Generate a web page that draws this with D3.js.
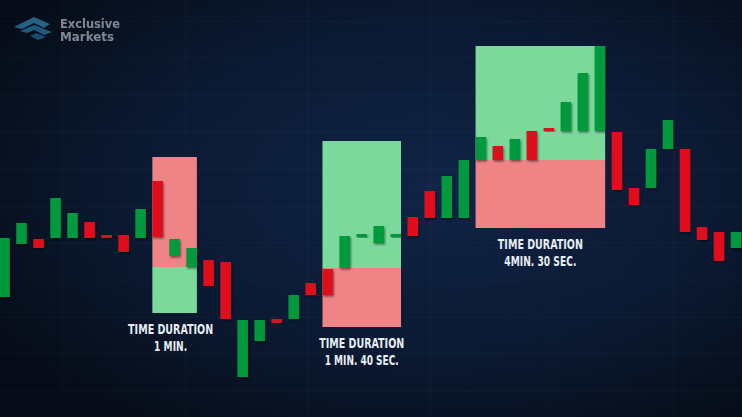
<!DOCTYPE html>
<html>
<head>
<meta charset="utf-8">
<script src="https://cdn.jsdelivr.net/npm/d3@7"></script>
<style>
  html, body { margin: 0; padding: 0; background: #070d18; overflow: hidden; }
  svg { display: block; }
</style>
</head>
<body>
<div id="chart"></div>
<script>
  // candle data, price levels
  var candleOpen  = [120, 173, 178, 179, 179, 195, 182, 182, 179, 236, 161, 150, 157, 155, 40, 76, 98, 98, 134, 148, 149, 180, 174, 180, 200, 226, 199, 199, 257, 271, 257, 286, 289, 286, 286, 286, 285, 229, 229, 268, 268, 190, 185, 169];
  var candleClose = [179, 194, 169, 219, 204, 179, 179, 165, 208, 180, 178, 169, 131, 98, 97, 97, 94, 122, 122, 122, 181, 183, 191, 183, 181, 199, 241, 257, 280, 257, 278, 257, 286, 315, 344, 371, 227, 212, 268, 297, 185, 177, 156, 185];

  // duration boxes: first/last candle, top/split/bottom levels
  var boxFrom   = [9, 19, 28];
  var boxTo     = [11, 23, 35];
  var boxTop    = [260, 276, 371];
  var boxSplit  = [150, 149, 257];
  var boxBottom = [104, 90, 189];
  var boxUpper  = ["red", "green", "green"];
  var boxLine1  = ["TIME DURATION", "TIME DURATION", "TIME DURATION"];
  var boxLine2  = ["1 MIN.", "1 MIN. 40 SEC.", "4MIN. 30 SEC."];

  var svgWidth = 742;
  var svgHeight = 417;

  var svg = d3.select("#chart")
    .append("svg")
    .attr("width", svgWidth)
    .attr("height", svgHeight);

  var defs = svg.append("defs");
  var bg = defs.append("radialGradient")
    .attr("id", "bg")
    .attr("cx", "58%").attr("cy", "45%").attr("r", "70%");
  bg.append("stop").attr("offset", "0%").attr("stop-color", "#102446");
  bg.append("stop").attr("offset", "55%").attr("stop-color", "#0b1a33");
  bg.append("stop").attr("offset", "100%").attr("stop-color", "#060c17");

  var shadow = defs.append("filter").attr("id", "shadow")
    .attr("x", "-50%").attr("y", "-20%").attr("width", "200%").attr("height", "140%");
  shadow.append("feDropShadow")
    .attr("dx", 1).attr("dy", 1.5).attr("stdDeviation", 1.2)
    .attr("flood-color", "#000").attr("flood-opacity", 0.5);

  svg.append("rect")
    .attr("width", svgWidth).attr("height", svgHeight)
    .attr("fill", "url(#bg)");

  // faint grid
  var gridX = d3.range(64, svgWidth, 122);
  var gridY = d3.range(21, svgHeight, 37);
  svg.append("g").selectAll("line").data(gridX).enter().append("line")
    .attr("x1", d => d).attr("x2", d => d).attr("y1", 0).attr("y2", svgHeight)
    .attr("stroke", "#ffffff").attr("stroke-opacity", 0.03);
  svg.append("g").selectAll("line").data(gridY).enter().append("line")
    .attr("y1", d => d).attr("y2", d => d).attr("x1", 0).attr("x2", svgWidth)
    .attr("stroke", "#ffffff").attr("stroke-opacity", 0.03);

  // scales
  var x = d3.scaleLinear().domain([0, 43]).range([4.5, 736]);
  var y = d3.scaleLinear().domain([0, 417]).range([417, 0]);
  var bw = 10.5;

  var candles = candleOpen.map(function(o, i) {
    return { i: i, open: o, close: candleClose[i] };
  });
  var boxes = boxFrom.map(function(f, i) {
    return {
      from: f, to: boxTo[i], top: boxTop[i], split: boxSplit[i], bottom: boxBottom[i],
      upper: boxUpper[i], l1: boxLine1[i], l2: boxLine2[i]
    };
  });

  var green = "#05993c", red = "#e2101b";
  var boxGreen = "#7bd99c", boxRed = "#ef8487";

  // boxes
  var boxG = svg.append("g").selectAll("g").data(boxes).enter().append("g");
  boxG.append("rect")
    .attr("x", d => x(d.from) - bw / 2)
    .attr("width", d => x(d.to) - x(d.from) + bw)
    .attr("y", d => y(d.top))
    .attr("height", d => y(d.split) - y(d.top))
    .attr("fill", d => d.upper == "red" ? boxRed : boxGreen);
  boxG.append("rect")
    .attr("x", d => x(d.from) - bw / 2)
    .attr("width", d => x(d.to) - x(d.from) + bw)
    .attr("y", d => y(d.split))
    .attr("height", d => y(d.bottom) - y(d.split))
    .attr("fill", d => d.upper == "red" ? boxGreen : boxRed);

  // candles
  svg.append("g").selectAll("rect").data(candles).enter().append("rect")
    .attr("x", d => x(d.i) - bw / 2)
    .attr("width", bw)
    .attr("y", d => y(Math.max(d.open, d.close)))
    .attr("height", d => Math.max(3, Math.abs(y(d.open) - y(d.close))))
    .attr("fill", d => d.close >= d.open ? green : red)
    .attr("filter", "url(#shadow)");

  // labels under the boxes
  var lineWidth = { "TIME DURATION": 85, "1 MIN.": 33, "1 MIN. 40 SEC.": 74, "4MIN. 30 SEC.": 72 };
  var labelG = svg.append("g").selectAll("g").data(boxes).enter().append("g")
    .attr("font-family", "'DejaVu Sans Condensed', 'DejaVu Sans', sans-serif")
    .attr("font-weight", "bold")
    .attr("font-size", "14px")
    .attr("fill", "#e8edf2")
    .attr("text-anchor", "middle");
  labelG.append("text")
    .attr("x", d => (x(d.from) + x(d.to)) / 2 - (d.from == 9 ? 4 : 0))
    .attr("y", d => y(d.bottom) + 21)
    .attr("textLength", d => lineWidth[d.l1])
    .attr("lengthAdjust", "spacingAndGlyphs")
    .text(d => d.l1);
  labelG.append("text")
    .attr("x", d => (x(d.from) + x(d.to)) / 2 - (d.from == 9 ? 4 : 0))
    .attr("y", d => y(d.bottom) + 38)
    .attr("textLength", d => lineWidth[d.l2])
    .attr("lengthAdjust", "spacingAndGlyphs")
    .text(d => d.l2);

  // logo
  var logo = svg.append("g").attr("opacity", 0.7);
  logo.append("path")
    .attr("d", "M14,27 L34,17 L50,24 L44,28 L34,23 L22,29 Z")
    .attr("fill", "#2f86b3");
  logo.append("path")
    .attr("d", "M20,31 L34,25 L52,32 L44,35 L34,30 L27,33 Z")
    .attr("fill", "#2a7aa6");
  logo.append("path")
    .attr("d", "M30,36 L36,33 L46,37 L38,40 Z")
    .attr("fill", "#23698f");
  logo.append("text")
    .attr("x", 60).attr("y", 28)
    .attr("font-family", "'DejaVu Sans Condensed', sans-serif")
    .attr("font-weight", "bold").attr("font-size", "12px")
    .attr("fill", "#b3bac2")
    .attr("textLength", 60).attr("lengthAdjust", "spacingAndGlyphs")
    .text("Exclusive");
  logo.append("text")
    .attr("x", 60).attr("y", 41)
    .attr("font-family", "'DejaVu Sans Condensed', sans-serif")
    .attr("font-weight", "bold").attr("font-size", "12px")
    .attr("fill", "#b3bac2")
    .attr("textLength", 54).attr("lengthAdjust", "spacingAndGlyphs")
    .text("Markets");
</script>
</body>
</html>
